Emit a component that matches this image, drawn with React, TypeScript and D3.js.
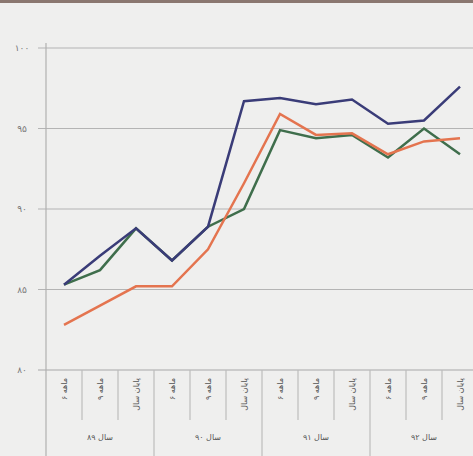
import React from "react";
import * as d3 from "d3";

const categories = [
  "۶ ماهه", "۹ ماهه", "پایان سال",
  "۶ ماهه", "۹ ماهه", "پایان سال",
  "۶ ماهه", "۹ ماهه", "پایان سال",
  "۶ ماهه", "۹ ماهه", "پایان سال",
];
const groups = ["سال ۸۹", "سال ۹۰", "سال ۹۱", "سال ۹۲"];
const blueValues = [85.3, 87.1, 88.8, 86.8, 88.9, 96.7, 96.9, 96.5, 96.8, 95.3, 95.5, 97.6];
const greenValues = [85.3, 86.2, 88.8, 86.8, 88.9, 90.0, 94.9, 94.4, 94.6, 93.2, 95.0, 93.4];
const orangeValues = [82.8, 84.0, 85.2, 85.2, 87.5, 91.6, 95.9, 94.6, 94.7, 93.4, 94.2, 94.4];
const yTicks = [80, 85, 90, 95, 100];
const faDigits = (n: number) => String(n).replace(/\d/g, (d) => "۰۱۲۳۴۵۶۷۸۹"[+d]);

export default function App() {
  const W = 473, H = 456;
  const left = 46, right = 478, top = 48, bottom = 370;
  const x = d3.scaleBand<number>().domain(d3.range(categories.length)).range([left, right]);
  const y = d3.scaleLinear().domain([80, 100]).range([bottom, top]);
  const line = d3.line<number>().x((_, i) => (x(i) as number) + x.bandwidth() / 2).y((d) => y(d));
  const series = [
    { v: greenValues, c: "#3f6e4c" },
    { v: orangeValues, c: "#e4744f" },
    { v: blueValues, c: "#3a3c78" },
  ];
  return (
    <svg width={W} height={H} style={{ position: "absolute", left: 0, top: 0, background: "#efefee" }}>
      <rect x={0} y={0} width={W} height={H} fill="#efefee" />
      <rect x={0} y={0} width={W} height={3} fill="#8a7770" />
      {yTicks.map((t) => (
        <g key={t}>
          <line x1={38} x2={W} y1={y(t)} y2={y(t)} stroke={t === 80 ? "#a8a8a8" : "#b4b4b4"} strokeWidth={1.2} />
          <text x={22} y={y(t) + 3} fontSize={9} fill="#777" textAnchor="middle" fontFamily="DejaVu Sans">{faDigits(t)}</text>
        </g>
      ))}
      <line x1={left} x2={left} y1={top - 5} y2={H} stroke="#b0b0b0" strokeWidth={1.2} />
      {categories.map((c, i) => {
        const xc = (x(i) as number) + x.bandwidth() / 2;
        const isGroup = i % 3 === 0;
        return (
          <g key={i}>
            {i > 0 && (
              <line x1={x(i) as number} x2={x(i) as number} y1={bottom} y2={isGroup ? H : 420} stroke="#bdbdbd" strokeWidth={1.2} />
            )}
            <text transform={`translate(${xc + 3},${378}) rotate(-90)`} fontSize={8} fill="#555" textAnchor="end" fontFamily="DejaVu Sans">{c}</text>
          </g>
        );
      })}
      {groups.map((g, k) => {
        const xc = (x(k * 3 + 1) as number) + x.bandwidth() / 2;
        return (
          <text key={g} x={xc} y={440} fontSize={8} fill="#555" textAnchor="middle" fontFamily="DejaVu Sans">{g}</text>
        );
      })}
      {series.map((s, i) => (
        <path key={i} d={line(s.v) as string} fill="none" stroke={s.c} strokeWidth={2.5} strokeLinejoin="miter" />
      ))}
    </svg>
  );
}
